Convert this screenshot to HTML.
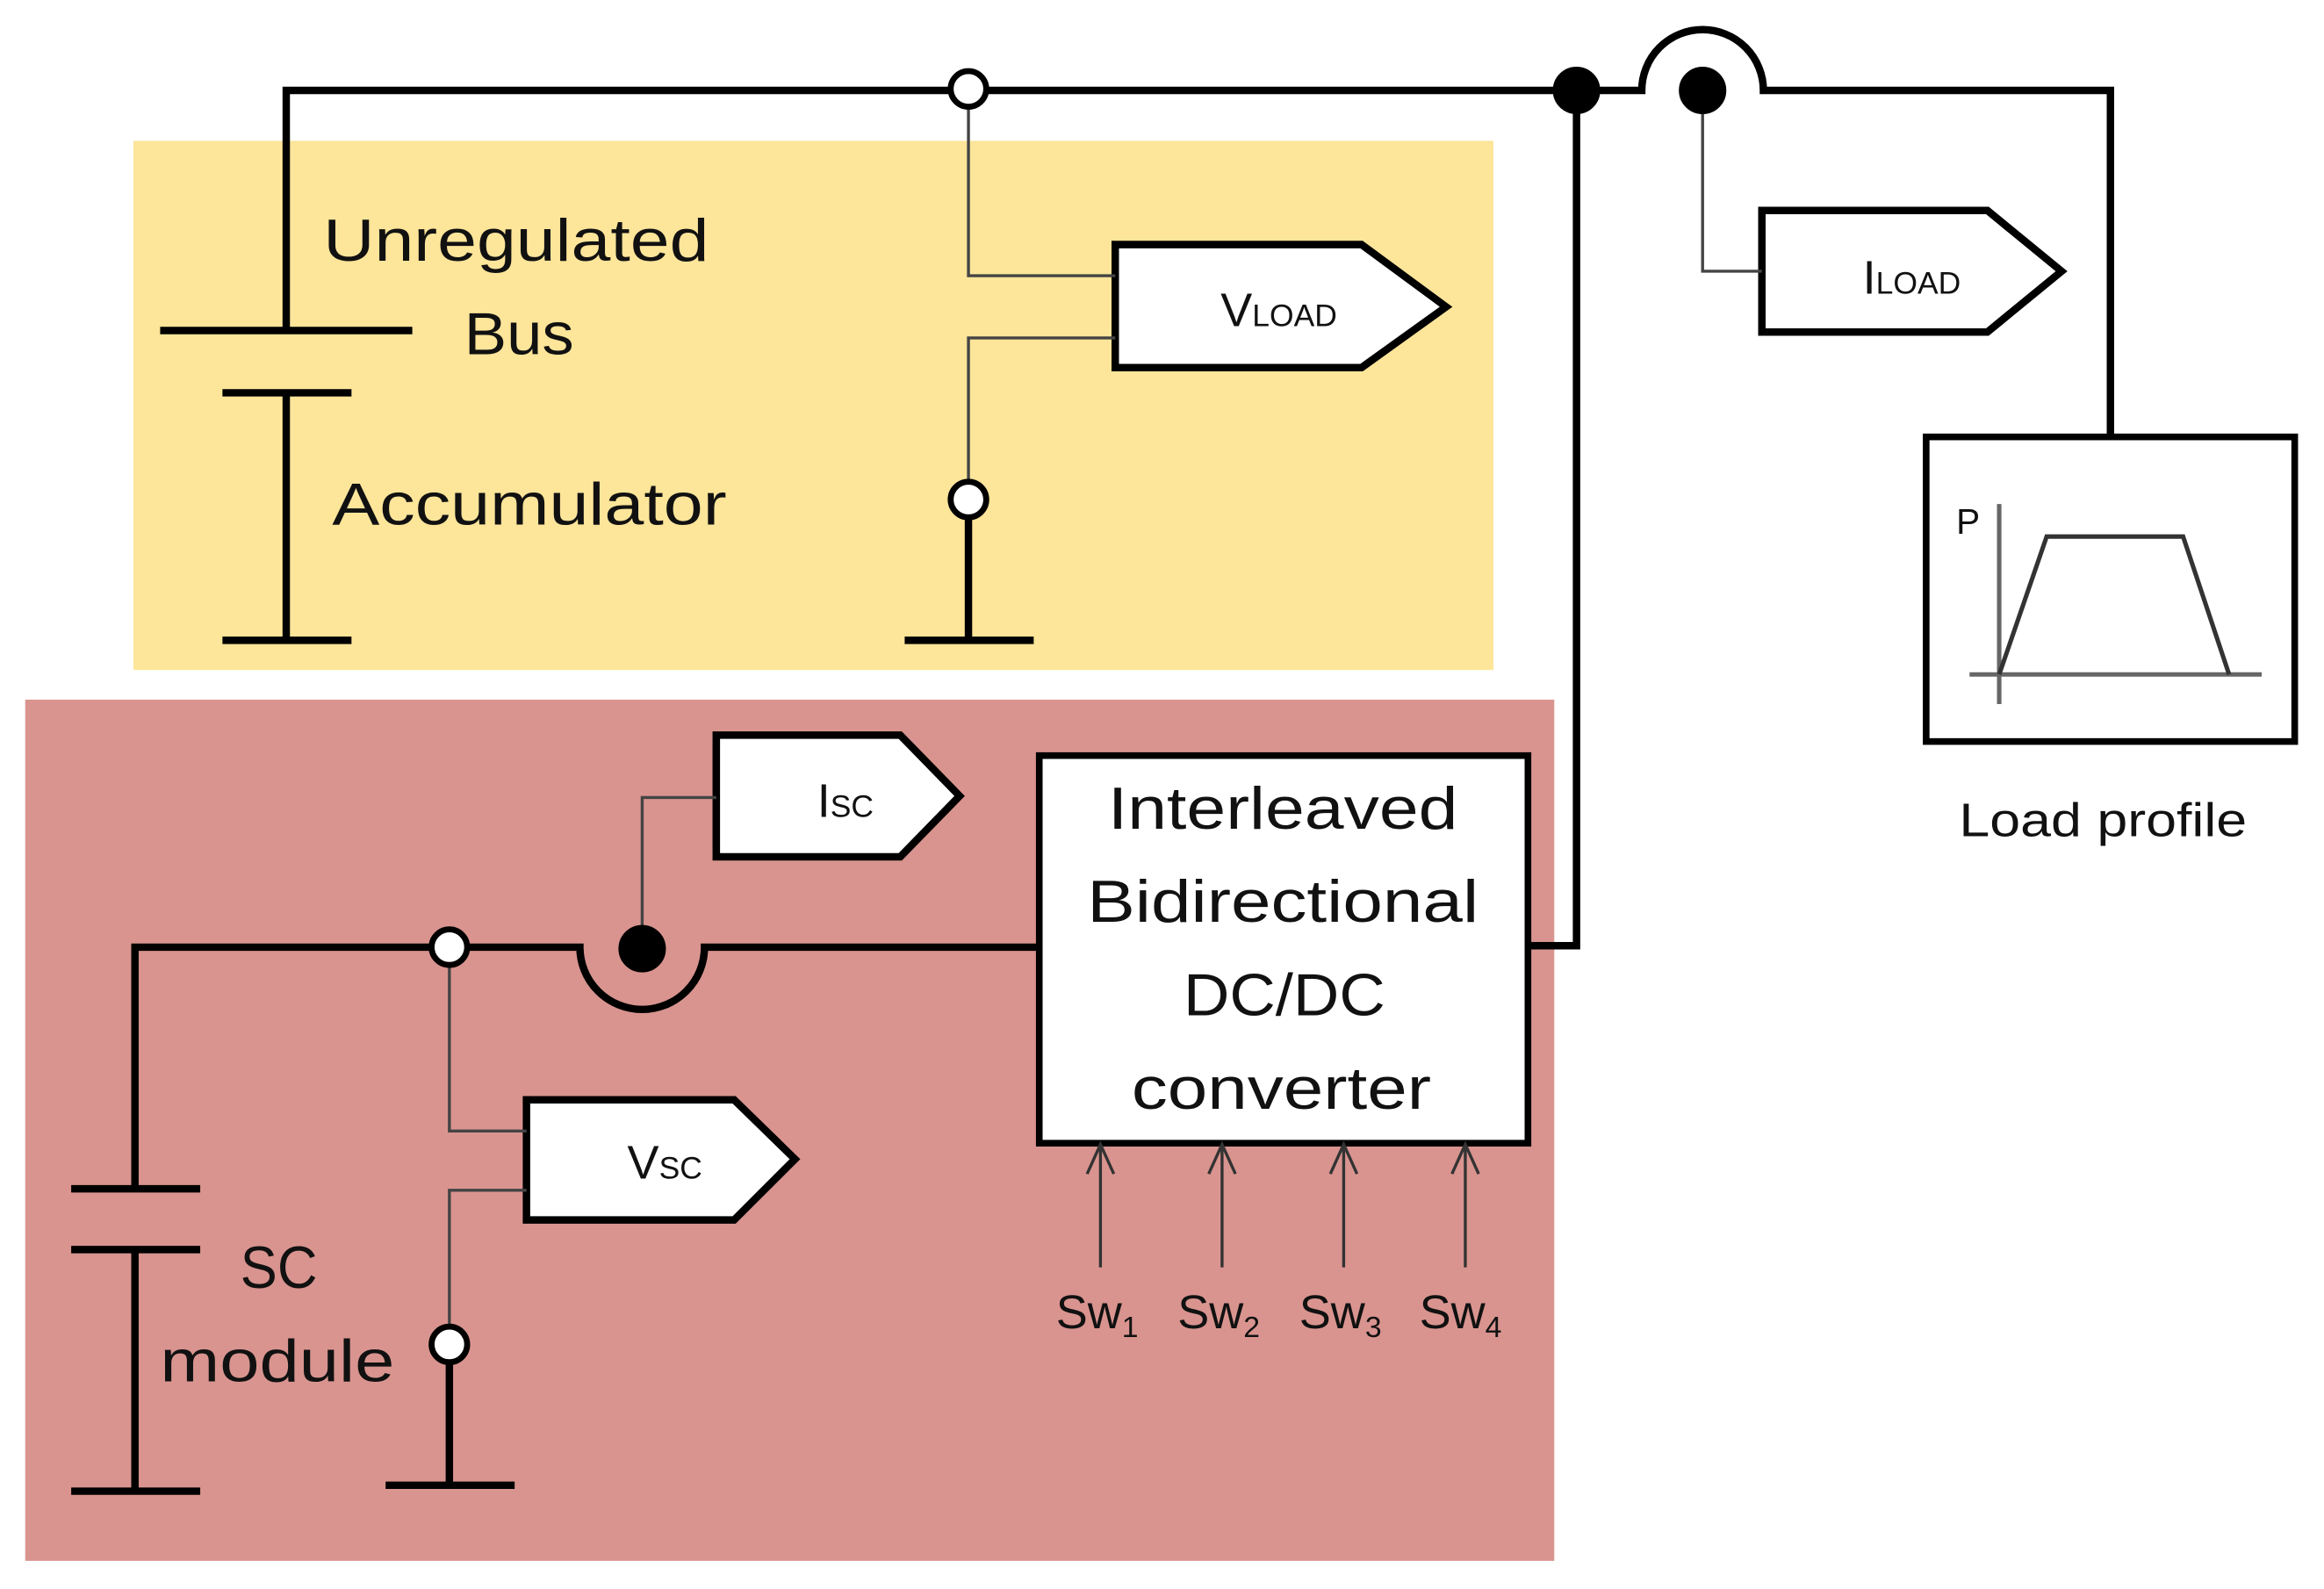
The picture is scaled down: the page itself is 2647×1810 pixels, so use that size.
<!DOCTYPE html>
<html><head><meta charset="utf-8"><style>html,body{margin:0;padding:0;background:#fff}svg{display:block}</style></head>
<body>
<svg width="2647" height="1810" viewBox="0 0 1567 1072" preserveAspectRatio="none" xmlns="http://www.w3.org/2000/svg" font-family="Liberation Sans, sans-serif">
<rect x="90" y="95" width="917" height="357" fill="#fde59a"/>
<rect x="17" y="472" width="1031" height="581" fill="#d9948f"/>
<g fill="none" stroke="#000" stroke-width="5">
<path d="M193 223 V61 H1107 A41 41 0 0 1 1189 61 H1423 V295"/>
<path d="M108 223 H278 M150 265 H237 M193 265 V432 M150 432 H237"/>
<path d="M653 337 V432 M610 432 H697"/>
<path d="M1063 61 V638 H1030"/>
<rect x="701" y="510" width="329" height="261"/>
<rect x="1299" y="295" width="248" height="205"/>
<path d="M91 802 V639 H391 A42 42 0 0 0 475 639 H701"/>
<path d="M48 802 H135 M48 843 H135 M91 843 V1006 M48 1006 H135"/>
<path d="M303 907 V1002 M260 1002 H347"/>
<path d="M752 165 H918 L975 207 L918 248 H752 Z"/>
<path d="M1188 142 H1340 L1390 183 L1340 224 H1188 Z" />
<path d="M483 496 H607 L647 537 L607 578 H483 Z"/>
<path d="M355 742 H495 L536 782 L495 823 H355 Z"/>
</g>
<path d="M752 165 H918 L975 207 L918 248 H752 Z M1188 142 H1340 L1390 183 L1340 224 H1188 Z M483 496 H607 L647 537 L607 578 H483 Z M355 742 H495 L536 782 L495 823 H355 Z" fill="#fff" stroke="#000" stroke-width="5"/>
<rect x="703" y="512" width="325" height="257" fill="#fff"/>
<rect x="1301" y="297" width="244" height="201" fill="#fff"/>
<g fill="none" stroke="#444" stroke-width="2">
<path d="M653 60 V186 H752 M752 228 H653 V337"/>
<path d="M1148 61 V183 H1188"/>
<path d="M433 640 V538 H483"/>
<path d="M303 639 V763 H355 M355 803 H303 V907"/>
</g>
<g stroke="#333" stroke-width="2" fill="none">
<path d="M742 855 V772 M733 792 L742 772 L751 792"/>
<path d="M824 855 V772 M815 792 L824 772 L833 792"/>
<path d="M906 855 V772 M897 792 L906 772 L915 792"/>
<path d="M988 855 V772 M979 792 L988 772 L997 792"/>
</g>
<g stroke="#666" stroke-width="3" fill="none">
<path d="M1348 340 V475 M1328 455 H1525"/>
<path d="M1348 455 L1380 362 H1472 L1503 455" stroke="#333"/>
</g>
<g stroke="#000" stroke-width="4">
<circle cx="653" cy="60" r="12" fill="#fff"/>
<circle cx="653" cy="337" r="12" fill="#fff"/>
<circle cx="303" cy="639" r="12" fill="#fff"/>
<circle cx="303" cy="907" r="12" fill="#fff"/>
<circle cx="1063" cy="61" r="14" fill="#000"/>
<circle cx="1148" cy="61" r="14" fill="#000"/>
<circle cx="433" cy="640" r="14" fill="#000"/>
</g>
<g fill="#111" font-size="40">
<text x="218" y="176" textLength="260" lengthAdjust="spacingAndGlyphs">Unregulated</text>
<text x="313" y="239" textLength="74" lengthAdjust="spacingAndGlyphs">Bus</text>
<text x="224" y="354" textLength="266" lengthAdjust="spacingAndGlyphs">Accumulator</text>
<text x="162" y="869" textLength="52" lengthAdjust="spacingAndGlyphs">SC</text>
<text x="108" y="932" textLength="158" lengthAdjust="spacingAndGlyphs">module</text>
<text x="865" y="559" text-anchor="middle" textLength="236" lengthAdjust="spacingAndGlyphs">Interleaved</text>
<text x="865" y="622" text-anchor="middle" textLength="264" lengthAdjust="spacingAndGlyphs">Bidirectional</text>
<text x="866" y="685" text-anchor="middle" textLength="136" lengthAdjust="spacingAndGlyphs">DC/DC</text>
<text x="864" y="748" text-anchor="middle" textLength="202" lengthAdjust="spacingAndGlyphs">converter</text>
</g>
<g fill="#111" font-size="32">
<text x="1418" y="564" text-anchor="middle" textLength="194" lengthAdjust="spacingAndGlyphs">Load profile</text>
<text x="823" y="220">V<tspan font-size="21">LOAD</tspan></text>
<text x="1256" y="198">I<tspan font-size="21">LOAD</tspan></text>
<text x="551" y="551">I<tspan font-size="21">SC</tspan></text>
<text x="423" y="795">V<tspan font-size="21">SC</tspan></text>
<text x="712" y="896">Sw<tspan font-size="20" dy="6">1</tspan></text>
<text x="794" y="896">Sw<tspan font-size="20" dy="6">2</tspan></text>
<text x="876" y="896">Sw<tspan font-size="20" dy="6">3</tspan></text>
<text x="957" y="896">Sw<tspan font-size="20" dy="6">4</tspan></text>
<text x="1319" y="360" font-size="24">P</text>
</g>
</svg>
</body></html>
